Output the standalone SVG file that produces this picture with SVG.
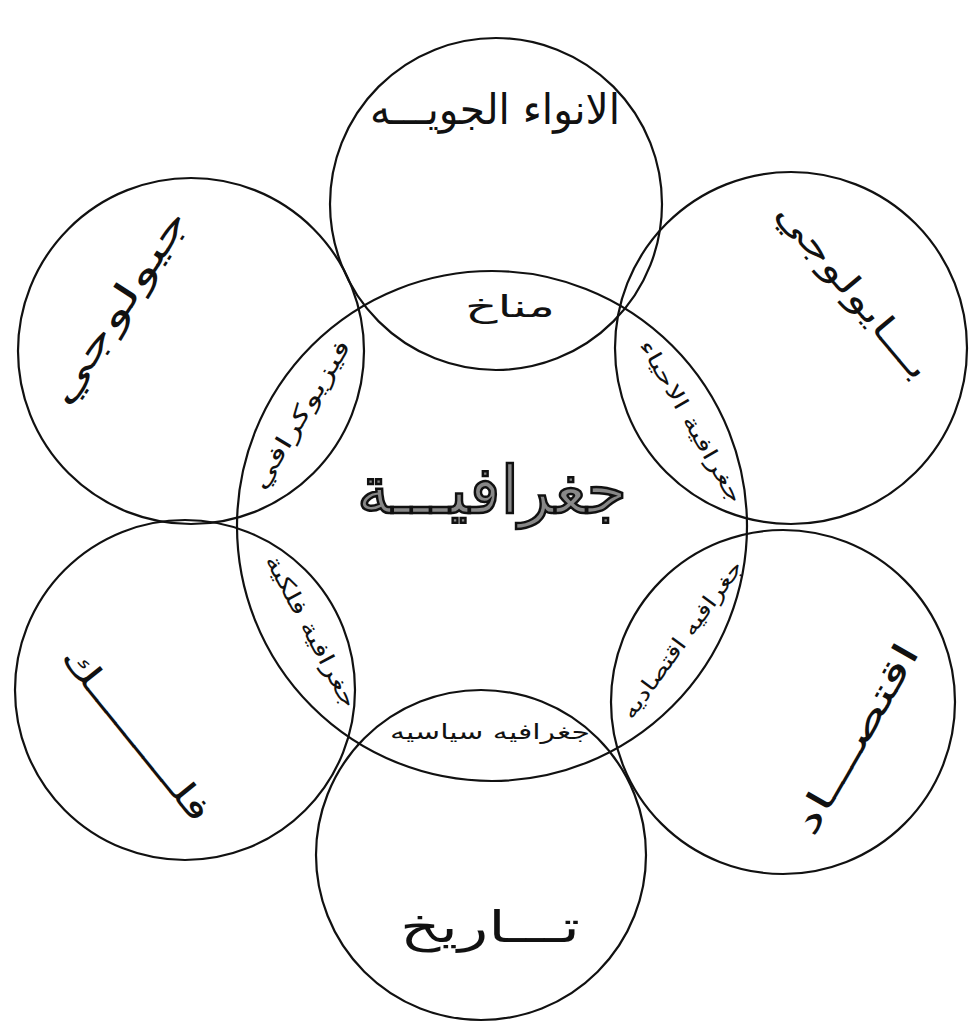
<svg xmlns="http://www.w3.org/2000/svg" width="971" height="1030" viewBox="0 0 971 1030">
<style>
.c{fill:none;stroke:#111;stroke-width:2.2}
.t{font-family:"DejaVu Sans",sans-serif;fill:#111;text-anchor:middle;dominant-baseline:middle}
</style>
<rect width="971" height="1030" fill="#fff"/>
<g id="connectors"></g>
<g id="center"><circle class="c" cx="492" cy="526" r="255"/><text class="t" x="492" y="495" font-size="66" textLength="270" lengthAdjust="spacingAndGlyphs" style="fill:#888;stroke:#111;stroke-width:2.5">جغرافيـــة</text></g>
<g id="top"><circle class="c" cx="496" cy="204" r="166"/><text class="t" x="495" y="112" font-size="42" textLength="250" lengthAdjust="spacingAndGlyphs">الانواء الجويـــه</text></g>
<g id="topright"><circle class="c" cx="791" cy="348" r="176"/><text class="t" transform="translate(852,292) rotate(50)" font-size="34" textLength="220" lengthAdjust="spacingAndGlyphs">بـــايولوجي</text></g>
<g id="topleft"><circle class="c" cx="191" cy="351" r="173"/><text class="t" transform="translate(120,308) rotate(-57)" font-size="36" textLength="225" lengthAdjust="spacingAndGlyphs">جيولوجي</text></g>
<g id="bottomleft"><circle class="c" cx="185" cy="690" r="170"/><text class="t" transform="translate(135,735) rotate(51)" font-size="34" textLength="215" lengthAdjust="spacingAndGlyphs">فلـــــــــك</text></g>
<g id="bottomright"><circle class="c" cx="783" cy="702" r="172"/><text class="t" transform="translate(858,740) rotate(-60)" font-size="36" textLength="215" lengthAdjust="spacingAndGlyphs">اقتصـــاد</text></g>
<g id="bottom"><circle class="c" cx="481" cy="855" r="165"/><text class="t" x="490" y="930" font-size="44" textLength="180" lengthAdjust="spacingAndGlyphs">تـــاريخ</text></g>
<g id="lens-top"><text class="t" x="510" y="308" font-size="30" textLength="90" lengthAdjust="spacingAndGlyphs">مناخ</text></g>
<g id="lens-topright"><text class="t" transform="translate(690,422) rotate(60)" font-size="21" textLength="185" lengthAdjust="spacingAndGlyphs">جغرافية الاحياء</text></g>
<g id="lens-bottomright"><text class="t" transform="translate(683,640) rotate(-54)" font-size="21" textLength="190" lengthAdjust="spacingAndGlyphs">جغرافيه اقتصاديه</text></g>
<g id="lens-bottom"><text class="t" x="490" y="733" font-size="21" textLength="200" lengthAdjust="spacingAndGlyphs">جغرافيه سياسيه</text></g>
<g id="lens-bottomleft"><text class="t" transform="translate(310,632) rotate(62)" font-size="22" textLength="170" lengthAdjust="spacingAndGlyphs">جغرافية فلكية</text></g>
<g id="lens-topleft"><text class="t" transform="translate(302,415) rotate(-59)" font-size="23" textLength="170" lengthAdjust="spacingAndGlyphs">فيزيوكرافي</text></g>
</svg>
